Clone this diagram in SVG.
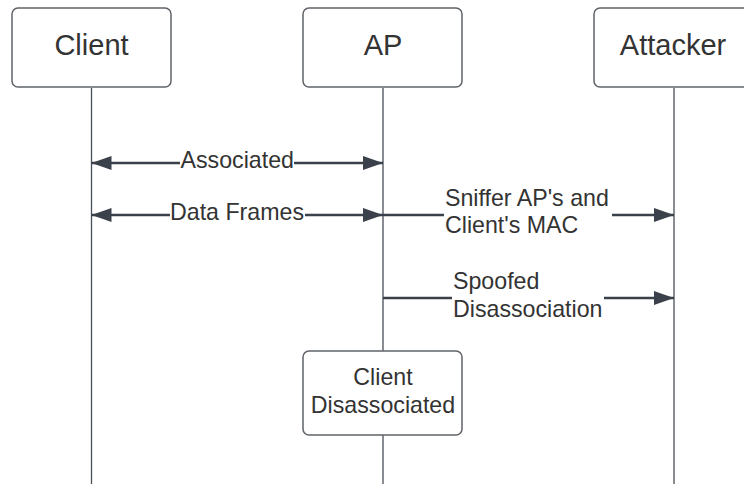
<svg xmlns="http://www.w3.org/2000/svg" width="744" height="484" viewBox="0 0 744 484">
<defs>
<style>
.box{fill:#fff;stroke:#5f6368;stroke-width:1.5}
.life{stroke:#4a5058;stroke-width:1.3;fill:none}
.msg{stroke:#3a414a;stroke-width:2.6;fill:none}
.hdr{font-family:"Liberation Sans",Arial,sans-serif;font-size:29px;fill:#333;text-anchor:middle}
.lbl{font-family:"Liberation Sans",Arial,sans-serif;font-size:23.2px;fill:#333}
.bg{fill:#fff}
</style>
<marker id="ah" markerUnits="userSpaceOnUse" markerWidth="22" markerHeight="16" refX="20" refY="7" orient="auto-start-reverse" viewBox="0 0 22 16">
<path d="M0,0 L20,7 L0,14 Z" fill="#3a414a"/>
</marker>
</defs>
<rect width="744" height="484" fill="#fff"/>
<g id="lifelines">
<line class="life" x1="91.5" y1="88" x2="91.5" y2="484"/>
<line class="life" x1="383" y1="88" x2="383" y2="351"/>
<line class="life" x1="383" y1="435" x2="383" y2="484"/>
<line class="life" x1="674" y1="88" x2="674" y2="484"/>
</g>
<g id="client">
<rect class="box" x="12" y="8" width="159" height="79" rx="6"/>
<text class="hdr" x="91.5" y="55">Client</text>
</g>
<g id="ap">
<rect class="box" x="303" y="8" width="159" height="79" rx="6"/>
<text class="hdr" x="383" y="55">AP</text>
</g>
<g id="attacker">
<rect class="box" x="594" y="8" width="159" height="79" rx="6"/>
<text class="hdr" x="673" y="55">Attacker</text>
</g>
<g id="connectors">
<line class="msg" x1="91.5" y1="163" x2="383" y2="163" marker-start="url(#ah)" marker-end="url(#ah)"/>
<line class="msg" x1="91.5" y1="215" x2="383" y2="215" marker-start="url(#ah)" marker-end="url(#ah)"/>
<line class="msg" x1="383" y1="215" x2="674" y2="215" marker-end="url(#ah)"/>
<line class="msg" x1="383" y1="298" x2="674" y2="298" marker-end="url(#ah)"/>
<rect class="bg" x="180" y="150" width="114" height="24"/>
<text class="lbl" x="180.5" y="168">Associated</text>
<rect class="bg" x="170" y="202" width="135" height="24"/>
<text class="lbl" x="170" y="220">Data Frames</text>
<rect class="bg" x="444" y="186" width="168" height="54"/>
<text class="lbl" x="445" y="206">Sniffer AP's and</text>
<text class="lbl" x="445" y="233">Client's MAC</text>
<rect class="bg" x="452" y="270" width="152" height="54"/>
<text class="lbl" x="453" y="289">Spoofed</text>
<text class="lbl" x="453" y="317">Disassociation</text>
</g>
<g id="client-disassociated">
<rect class="box" x="303" y="351" width="159" height="84" rx="6"/>
<text class="lbl" x="383" y="385" text-anchor="middle">Client</text>
<text class="lbl" x="383" y="413" text-anchor="middle">Disassociated</text>
</g>
</svg>
